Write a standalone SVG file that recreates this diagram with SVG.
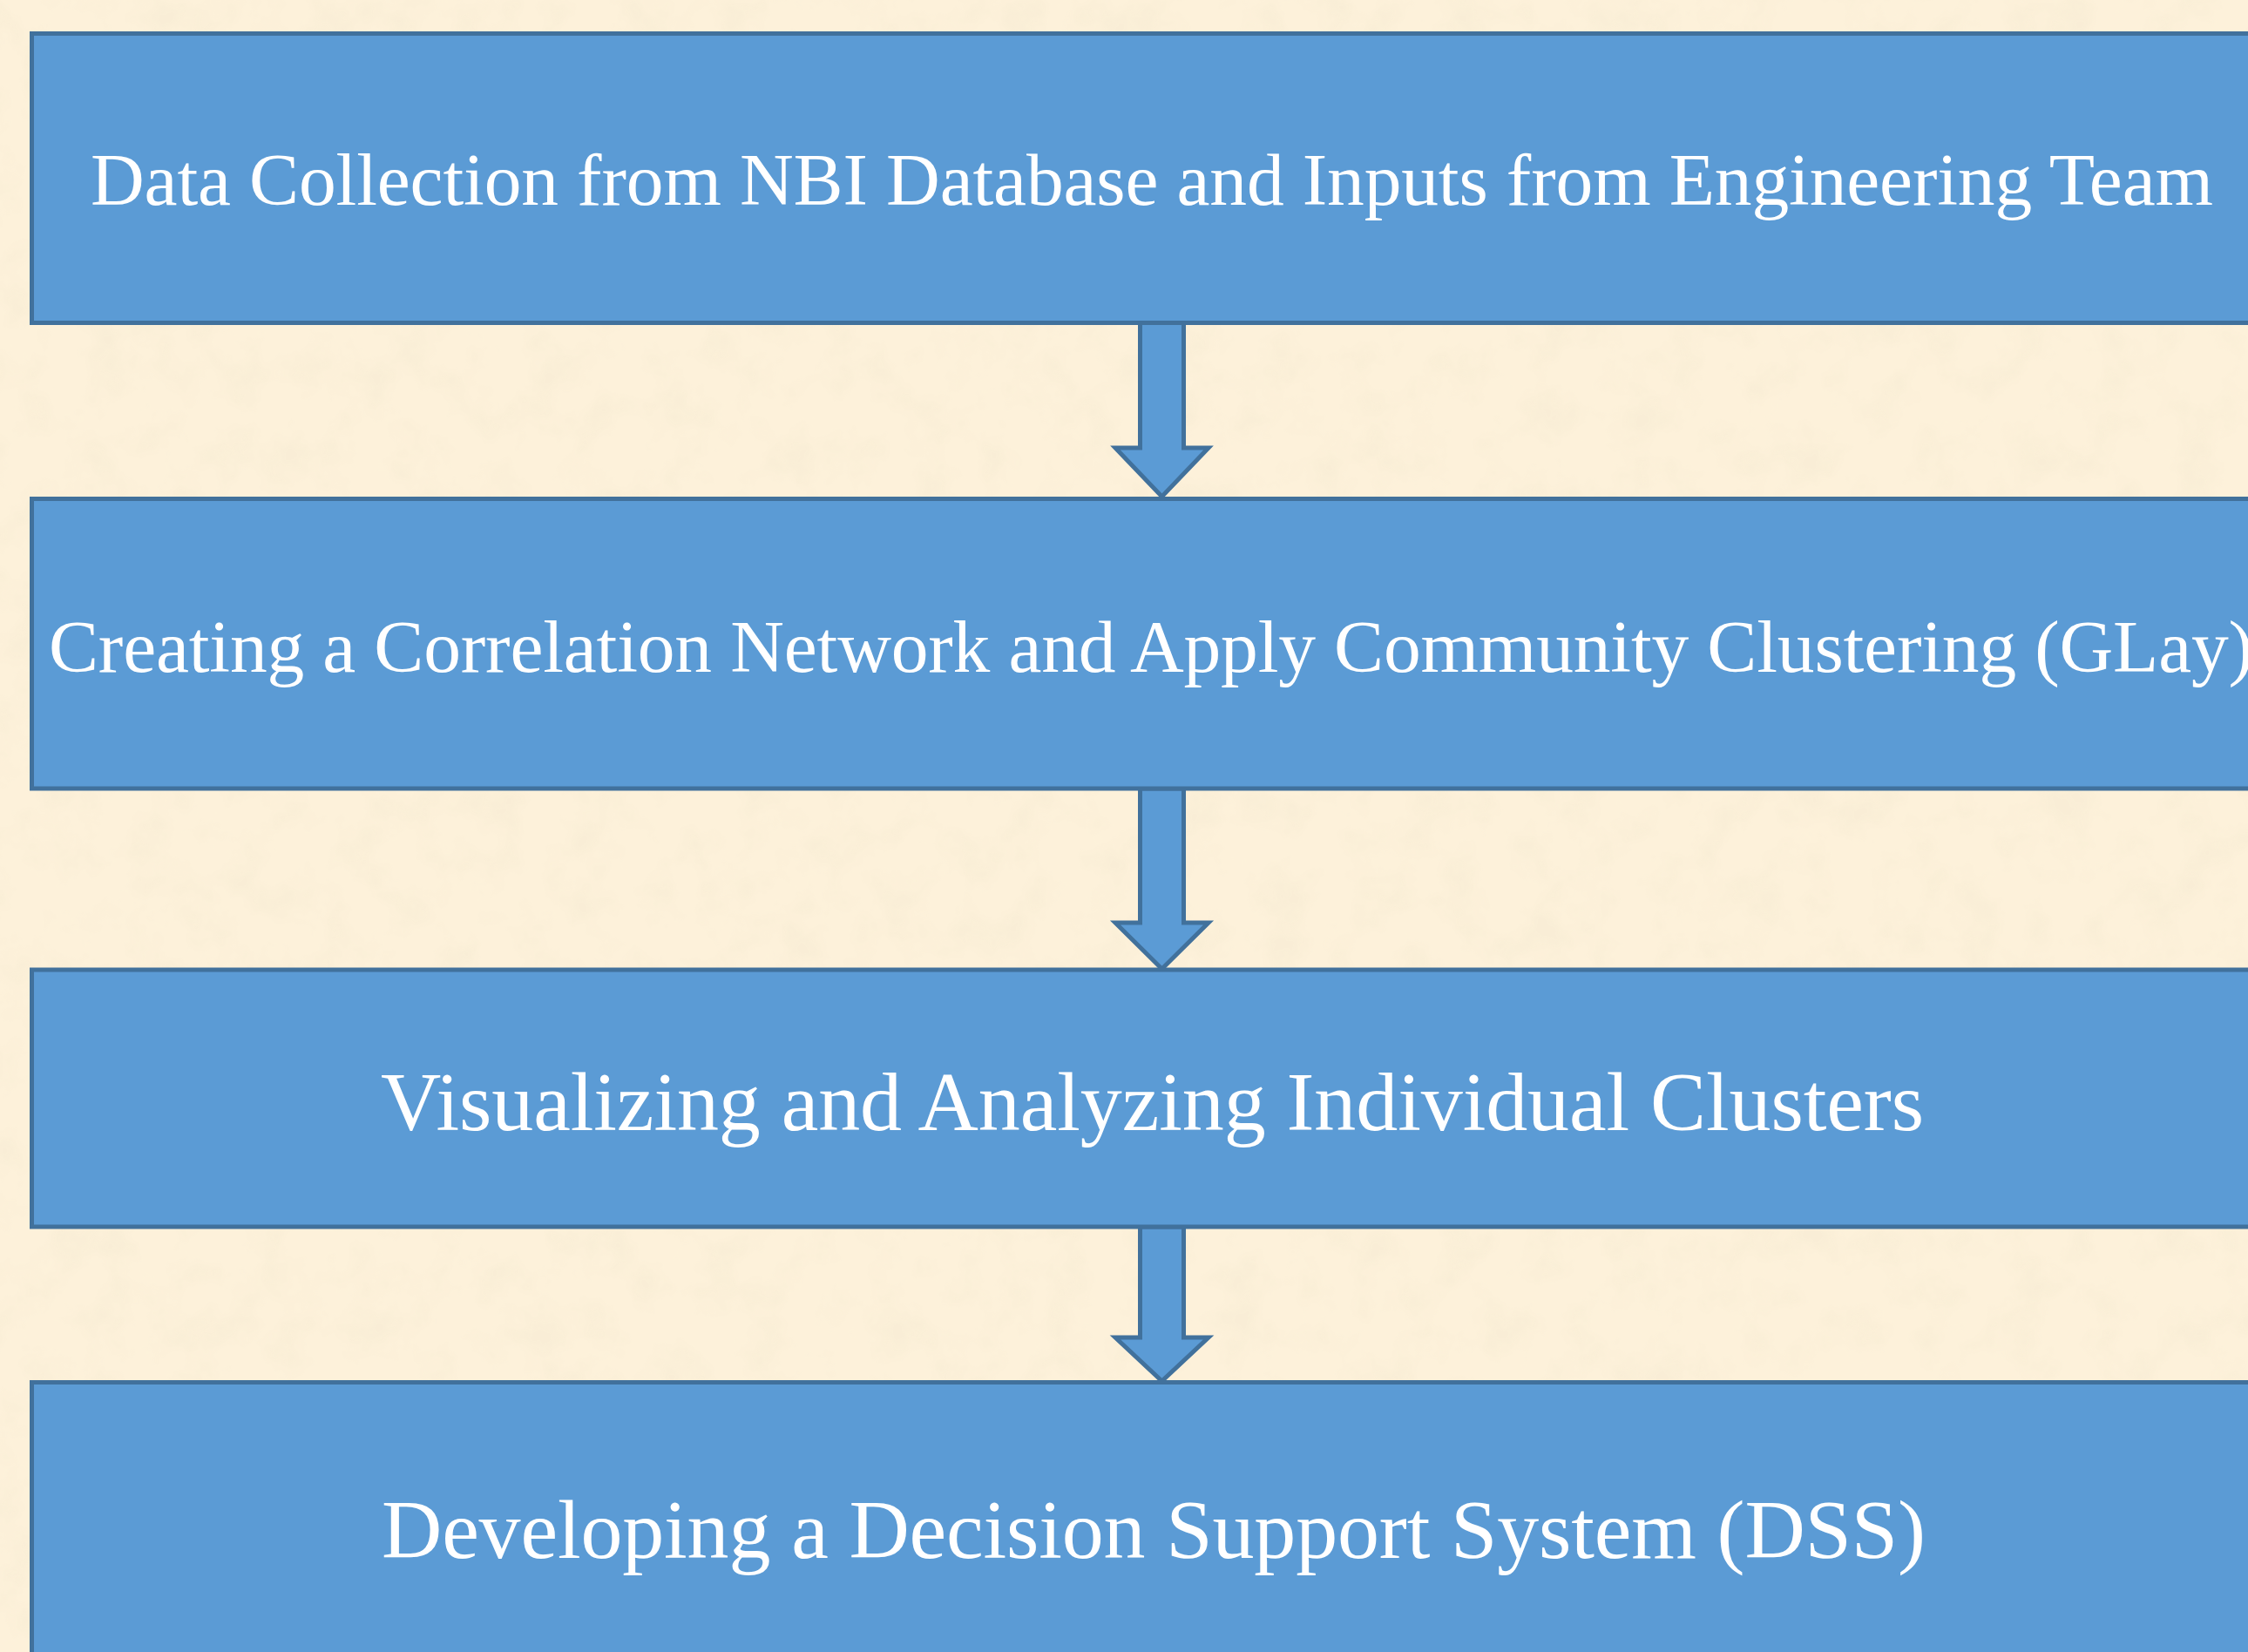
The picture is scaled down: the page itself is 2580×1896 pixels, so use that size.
<svg xmlns="http://www.w3.org/2000/svg" width="2580" height="1896" viewBox="0 0 2580 1896">
  <defs>
    <filter id="parchment" x="0" y="0" width="100%" height="100%">
      <feTurbulence type="fractalNoise" baseFrequency="0.02" numOctaves="4" seed="7" result="n"/>
      <feColorMatrix in="n" type="matrix" values="0 0 0 0 0.93  0 0 0 0 0.84  0 0 0 0 0.66  0 0 0 -2.6 1.45" result="spots"/>
      <feComposite in="spots" in2="SourceGraphic" operator="in"/>
    </filter>
    <style>
      .box { fill: #5B9BD5; stroke: #41719C; stroke-width: 5; }
      .arrow { fill: #5B9BD5; stroke: #41719C; stroke-width: 5; stroke-linejoin: miter; }
      .label { font-family: "Liberation Serif", "Times New Roman", serif; fill: #FFFFFF; }
    </style>
  </defs>
  <rect x="0" y="0" width="2580" height="1896" fill="#FDF1DA"/>
  <rect x="0" y="0" width="2580" height="1896" fill="#FDF1DA" filter="url(#parchment)" opacity="0.6"/>

  <g id="connectors">
    <path class="arrow" d="M1308.5,369.5 L1358.5,369.5 L1358.5,514 L1387,514 L1333.5,570 L1280,514 L1308.5,514 Z"/>
    <path class="arrow" d="M1308.5,905 L1358.5,905 L1358.5,1059 L1387,1059 L1333.5,1112 L1280,1059 L1308.5,1059 Z"/>
    <path class="arrow" d="M1308.5,1408 L1358.5,1408 L1358.5,1535 L1387,1535 L1333.5,1585 L1280,1535 L1308.5,1535 Z"/>
  </g>

  <g id="node1">
    <rect class="box" x="36.5" y="38.5" width="2700" height="332"/>
    <text class="label" x="104" y="235" font-size="85.5" textLength="2436">Data Collection from NBI Database and Inputs from Engineering Team</text>
  </g>
  <g id="node2">
    <rect class="box" x="36.5" y="572.5" width="2700" height="332.5"/>
    <text class="label" x="56" y="771" font-size="85.5" textLength="2530">Creating a Correlation Network and Apply Community Clustering (GLay)</text>
  </g>
  <g id="node3">
    <rect class="box" x="36.5" y="1113" width="2700" height="295"/>
    <text class="label" x="437" y="1297" font-size="96" textLength="1771">Visualizing and Analyzing Individual Clusters</text>
  </g>
  <g id="node4">
    <rect class="box" x="36.5" y="1586.5" width="2700" height="400"/>
    <text class="label" x="438" y="1788" font-size="96" textLength="1772">Developing a Decision Support System (DSS)</text>
  </g>
</svg>
